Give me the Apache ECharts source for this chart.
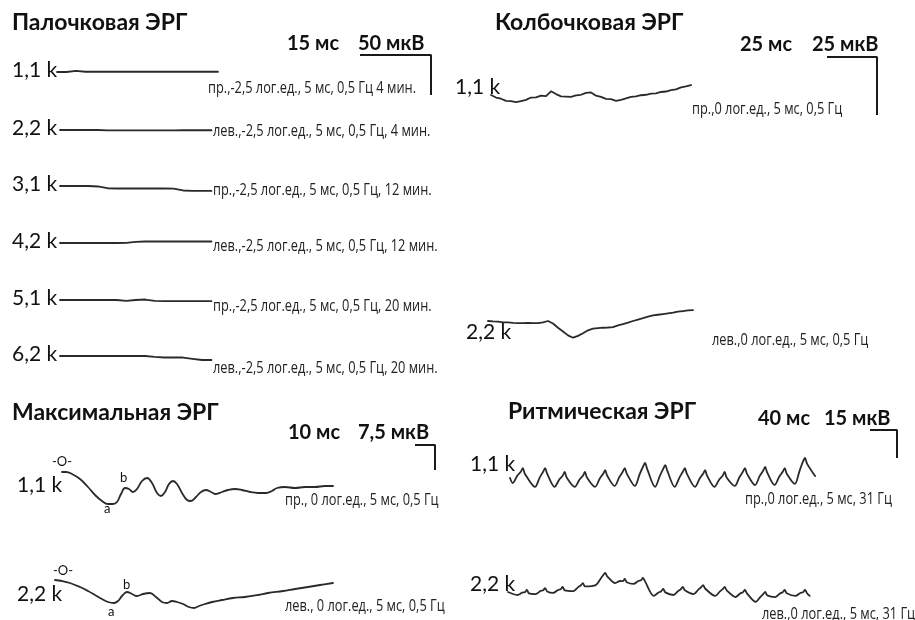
<!DOCTYPE html>
<html>
<head>
<meta charset="utf-8">
<script src="https://cdn.jsdelivr.net/npm/echarts@6/dist/echarts.min.js"></script>
<style>
  html, body { margin: 0; padding: 0; background: #fff; }
  #chart { width: 915px; height: 620px; }
</style>
</head>
<body>
<div id="chart"></div>
<script>
// ---------- recorded responses (time in ms, amplitude in µV) ----------

// Rod (scotopic) ERG, sampled every 2 ms
const rodStepMs = 2;
const rod1 = [0, 0, 1.5, 0.3, 0.3, 0.3, 0.3, 0.3, 0.3, 0.3, 0.3, 0.3, 0.3, 0.3, 0.3, 0.3, 0.3, 0.3];
const rod2 = [0, 0, 0, 0, 0, -0.5, -0.5, -0.5, -0.5, -0.5, -0.5, -0.5, -0.5, -0.3, -0.3, -0.3, -0.3];
const rod3 = [0, 0, 0, 0, -0.6, -2.8, -3.1, -3.1, -3.1, -3.1, -3.1, -3.1, -3.4, -5.6, -6.2, -6.2, -6.2];
const rod4 = [0, 0, 0, 0, 0, 0, 0, 0.2, 1.5, 1.9, 1.9, 1.9, 1.9, 1.9, 1.9, 1.9, 1.9];
const rod5 = [0, 0, 0, 0, 0, 0, 0, -1.2, 0, 0.6, -1.2, -1.3, -1.3, -1.3, -1.3, -1.3, -1.3];
const rod6 = [0, 0, 0, 0, 0, 0, 0, 0, 0, 0, -1.2, -1.9, -1.9, -1.9, -3.5, -5, -5];
const rodLabels = ['1,1 k', '2,2 k', '3,1 k', '4,2 k', '5,1 k', '6,2 k'];
const rodNotes = [
  'пр.,-2,5 лог.ед., 5 мс, 0,5 Гц 4 мин.',
  'лев.,-2,5 лог.ед., 5 мс, 0,5 Гц, 4 мин.',
  'пр.,-2,5 лог.ед., 5 мс, 0,5 Гц, 12 мин.',
  'лев.,-2,5 лог.ед., 5 мс, 0,5 Гц, 12 мин.',
  'пр.,-2,5 лог.ед., 5 мс, 0,5 Гц, 20 мин.',
  'лев.,-2,5 лог.ед., 5 мс, 0,5 Гц, 20 мин.'
];

// Cone (photopic) ERG, sampled every 2.5 ms
const coneStepMs = 2.5;
const cone1 = [0, -1.1, -1.6, -2.5, -2.6, -3.1, -2.6, -2.1, -1.1, -1.0, -0.3, -0.5, 1.6, 0.4, -0.6, -0.7, -0.8, -0.2, 0.1, 0.9, 1.1, -0.3, -0.8, -1.7, -1.8, -2.5, -2.1, -1.5, -0.8, -0.6, -0.1, 0.1, 0.6, 0.7, 1.3, 1.5, 2.1, 2.4, 3.3, 3.7, 4.3];
const cone2 = [0, -0.2, -0.3, -0.6, -0.6, -0.8, -0.9, -0.9, -0.8, -0.9, -0.9, -0.6, 0, -1.1, -2.9, -4.5, -6.2, -7.2, -6.4, -5.3, -4.0, -3.3, -3.1, -2.9, -2.8, -2.6, -1.9, -1.3, -0.7, 0, 0.6, 1.2, 1.9, 2.4, 2.7, 3.0, 3.3, 3.6, 4.0, 4.3, 4.6, 4.7];
const coneLabels = ['1,1 k', '2,2 k'];
const coneNotes = ['пр.,0 лог.ед., 5 мс, 0,5 Гц', 'лев.,0 лог.ед., 5 мс, 0,5 Гц'];

// Maximal (combined) ERG
const maxT1 = [0, 2, 5, 9, 13, 16.5, 20, 23, 25.5, 27.5, 29.5, 31.5, 33.5, 35.5, 37.5, 40, 42.5, 45, 47.5, 49.5, 51.5, 53.5, 55.5, 57.5, 60, 62.5, 64.5, 67, 69.5, 72, 74.5, 77, 80, 83, 86.5, 90, 94, 98, 102, 105, 107.5, 111.5, 116.5, 121.5, 126.5, 131.5, 135.5];
const maxV1 = [0, 0, -0.6, -2.1, -4.5, -6.9, -8.7, -9.6, -9.6, -9.0, -6.6, -4.8, -5.1, -6.0, -5.1, -2.7, -1.8, -3.3, -6.3, -7.2, -6.0, -3.6, -2.7, -3.6, -6.3, -8.4, -8.7, -7.5, -6.0, -5.4, -6.0, -6.6, -6.0, -5.4, -5.1, -5.4, -6.0, -6.3, -6.3, -5.7, -4.8, -4.5, -4.8, -4.5, -4.5, -4.2, -4.2];
const maxT2 = [0, 3.5, 7.5, 12.5, 16.5, 20, 23.5, 26.5, 29.5, 31.5, 33.5, 36, 38.5, 41, 44, 47.5, 50.5, 53.5, 56, 58.5, 61, 64, 67, 69.5, 72, 75, 78.5, 83.5, 89, 95, 101.5, 106.5, 114, 120, 126.5, 132.5, 139];
const maxV2 = [0, -0.3, -0.9, -2.1, -3.3, -4.5, -5.7, -6.6, -6.9, -6.3, -4.8, -3.6, -4.2, -4.8, -4.2, -3.9, -5.1, -6.6, -6.9, -6.3, -6.6, -7.2, -8.1, -8.4, -7.8, -7.2, -6.6, -6.0, -5.4, -5.1, -4.5, -3.9, -3.3, -2.7, -2.1, -1.5, -0.9];
const maxLabels = ['1,1 k', '2,2 k'];
const maxNotes = ['пр., 0 лог.ед., 5 мс, 0,5 Гц', 'лев., 0 лог.ед., 5 мс, 0,5 Гц'];

// Flicker (31 Hz) ERG
const rhyT1 = [0, 4, 11, 16, 19, 22, 37, 44, 49, 52, 55, 66, 73, 78, 81, 84, 96, 103, 108, 111, 114, 126, 133, 138, 141, 144, 155, 162, 167, 170, 173, 185, 192, 197, 200, 203, 215, 222, 227, 230, 233, 244, 251, 256, 259, 262, 274, 281, 286, 289, 292, 303, 310, 315, 318, 321, 333, 340, 345, 348, 351, 363, 370, 375, 378, 381, 392, 399, 404, 407, 410, 422, 429, 434, 437, 440, 452];
const rhyV1 = [1.1, -1.6, 2.4, 4.4, 6.4, 3.4, -3.7, 1.3, 4.4, 6.4, 3.4, -3.7, 0.3, 2.3, 4.3, 1.3, -3.7, 0.3, 2.3, 4.3, 1.3, -3.7, 0.8, 3.3, 5.3, 2.3, -3.2, 1.6, 4.4, 6.4, 3.4, -3.2, 3.0, 7.1, 9.1, 6.1, -3.7, 2.2, 6.0, 8.0, 5.0, -3.7, 1.3, 4.4, 6.4, 3.4, -3.7, 0.8, 3.3, 5.3, 2.3, -3.7, 0.3, 2.3, 4.3, 1.3, -3.2, 1.6, 4.4, 6.4, 3.4, -2.7, 2.2, 5.0, 7.0, 4.0, -2.7, 1.9, 4.4, 6.4, 3.4, -2.1, 4.9, 9.8, 11.8, 8.8, 2.1];
const rhyT2 = [0, 14, 21, 25, 28, 31, 41, 48, 52, 55, 58, 67, 74, 78, 81, 84, 97, 104, 108, 111, 114, 130, 137, 141, 144, 147, 159, 166, 170, 173, 176, 186, 193, 197, 200, 203, 216, 223, 227, 230, 233, 245, 252, 256, 259, 262, 275, 282, 286, 289, 292, 307, 314, 318, 321, 324, 337, 344, 348, 351, 354, 367, 374, 378, 381, 384, 396, 403, 407, 410, 413, 426, 433, 437, 440, 443, 447];
const rhyV2 = [0, -1.6, -0.3, -0.1, 1.1, -0.7, -1.1, 0.5, 0.9, 2.1, 0.3, -0.5, 1.1, 1.5, 2.7, 0.9, 0.5, 2.6, 3.6, 4.8, 3.0, 3.7, 7.0, 9.0, 10.2, 8.4, 4.8, 5.9, 5.8, 7.0, 5.2, 4.3, 5.9, 6.3, 7.5, 5.7, -2.1, -0.3, 0.4, 1.6, -0.2, -1.6, 0.5, 1.5, 2.7, 0.9, -1.1, 1.3, 2.5, 3.7, 1.9, -2.1, 0.3, 1.5, 2.7, 0.9, -2.7, -0.8, -0.1, 1.1, -0.7, -5.3, -2.6, -1.2, 0, -1.8, -2.7, -0.8, -0.1, 1.1, -0.7, -2.1, -0.5, -0.1, 1.1, -0.7, -2.1];
const rhyLabels = ['1,1 k', '2,2 k'];
const rhyNotes = ['пр.,0 лог.ед., 5 мс, 31 Гц', 'лев.,0 лог.ед., 5 мс, 31 Гц'];

// Calibration bars of each panel: [time ms, amplitude µV]
const rodScale = [15, 50];
const coneScale = [25, 25];
const maxScale = [10, 7.5];
const rhyScale = [40, 15];

// ---------- layout ----------
const FONT_TITLE = 'bold 23px Lato, "Open Sans", sans-serif';
const FONT_SCALE = 'bold 20px Lato, "Open Sans", sans-serif';
const FONT_LABEL = '21px Lato, "Open Sans", sans-serif';
const FONT_NOTE = '16px "Open Sans", "Noto Sans", sans-serif';
const NOTE_SQUEEZE = 0.8;
const FONT_MARK = '13px Lato, "Open Sans", sans-serif';
const INK = '#2a2a2a';

// pixel size of one ms and one µV in each panel (taken from its calibration bar)
const rodPanel  = { pxMs: 71 / rodScale[0],  pxUv: 40 / rodScale[1],  scale: rodScale };
const conePanel = { pxMs: 50 / coneScale[0], pxUv: 58 / coneScale[1], scale: coneScale };
const maxPanel  = { pxMs: 20 / maxScale[0],  pxUv: 25 / maxScale[1],  scale: maxScale };
const rhyPanel  = { pxMs: 27 / rhyScale[0],  pxUv: 28 / rhyScale[1],  scale: rhyScale };

const grids = [], xAxes = [], yAxes = [], series = [], texts = [];

function addGrid(left, top, width, height, xMin, xMax, yMin, yMax) {
  const i = grids.length;
  grids.push({ left, top, width, height, containLabel: false, outerBoundsMode: 'none' });
  xAxes.push({ type: 'value', gridIndex: i, min: xMin, max: xMax, show: false });
  yAxes.push({ type: 'value', gridIndex: i, min: yMin, max: yMax, show: false });
  return i;
}

// one trace: baseline (t = 0, v = 0) placed at (x0, y0)
function addTrace(points, panel, x0, y0, smooth) {
  const tMax = points[points.length - 1][0];
  const H = 30;
  const half = H / 2 / panel.pxUv;
  const i = addGrid(x0, y0 - H / 2, tMax * panel.pxMs, H, 0, tMax, -half, half);
  series.push({
    type: 'line', xAxisIndex: i, yAxisIndex: i, data: points,
    symbol: 'none', smooth: smooth || false, clip: false, silent: true,
    lineStyle: { color: INK, width: 1.8, join: 'round', cap: 'round' }
  });
}

// calibration bar: horizontal = time, vertical = amplitude, corner at top right
function addBar(panel, left, top) {
  const [ms, uv] = panel.scale;
  const i = addGrid(left, top, ms * panel.pxMs, uv * panel.pxUv, 0, ms, -uv, 0);
  series.push({
    type: 'line', xAxisIndex: i, yAxisIndex: i,
    data: [[0, 0], [ms, 0], [ms, -uv]],
    symbol: 'none', clip: false, silent: true,
    lineStyle: { color: '#1a1a1a', width: 2 }
  });
}

function uniform(values, step) { return values.map((v, k) => [k * step, v]); }
function paired(ts, vs) { return ts.map((t, k) => [t, vs[k]]); }

function text(str, x, y, font, color, squeeze) {
  texts.push({
    type: 'text', x, y, silent: true, scaleX: squeeze || 1,
    style: { text: str, font, fill: color || '#111', textVerticalAlign: 'middle', verticalAlign: 'middle' }
  });
}
function note(str, x, y) { text(str, x, y, FONT_NOTE, '#222', NOTE_SQUEEZE); }

// ---- Палочковая ЭРГ ----
text('Палочковая ЭРГ', 12, 23, FONT_TITLE);
text('15 мс', 287, 44, FONT_SCALE);
text('50 мкВ', 358, 44, FONT_SCALE);
addBar(rodPanel, 360, 55);
const rodTraces = [rod1, rod2, rod3, rod4, rod5, rod6];
const rodX0 = [57, 60, 60, 60, 60, 60];
const rodY0 = [72, 130, 186, 243, 300, 356];
const rodNoteXY = [[208, 88], [213, 131], [213, 190], [213, 246], [213, 306], [213, 368]];
rodTraces.forEach((vals, k) => {
  addTrace(uniform(vals, rodStepMs), rodPanel, rodX0[k], rodY0[k], false);
  text(rodLabels[k], 12, rodY0[k] - 2, FONT_LABEL);
  note(rodNotes[k], rodNoteXY[k][0], rodNoteXY[k][1]);
});

// ---- Колбочковая ЭРГ ----
text('Колбочковая ЭРГ', 495, 23, FONT_TITLE);
text('25 мс', 740, 45, FONT_SCALE);
text('25 мкВ', 812, 45, FONT_SCALE);
addBar(conePanel, 827, 57);
addTrace(uniform(cone1, coneStepMs), conePanel, 491, 95, false);
addTrace(uniform(cone2, coneStepMs), conePanel, 488, 321, false);
text(coneLabels[0], 455, 87, FONT_LABEL);
text(coneLabels[1], 466, 332, FONT_LABEL);
note(coneNotes[0], 692, 109);
note(coneNotes[1], 712, 340);

// ---- Максимальная ЭРГ ----
text('Максимальная ЭРГ', 12, 413, FONT_TITLE);
text('10 мс', 288, 433, FONT_SCALE);
text('7,5 мкВ', 358, 433, FONT_SCALE);
addBar(maxPanel, 415, 445);
addTrace(paired(maxT1, maxV1), maxPanel, 62, 472, 0.4);
addTrace(paired(maxT2, maxV2), maxPanel, 55, 580, 0.4);
text('-O-', 52, 462, FONT_MARK);
text(maxLabels[0], 17, 485, FONT_LABEL);
text('b', 120, 478, FONT_MARK);
text('a', 104, 509, FONT_MARK);
note(maxNotes[0], 285, 500);
text('-O-', 53, 571, FONT_MARK);
text(maxLabels[1], 17, 594, FONT_LABEL);
text('b', 123, 585, FONT_MARK);
text('a', 108, 612, FONT_MARK);
note(maxNotes[1], 285, 606);

// ---- Ритмическая ЭРГ ----
text('Ритмическая ЭРГ', 508, 412, FONT_TITLE);
text('40 мс', 758, 419, FONT_SCALE);
text('15 мкВ', 824, 419, FONT_SCALE);
addBar(rhyPanel, 870, 430);
addTrace(paired(rhyT1, rhyV1), rhyPanel, 510, 480, 0.3);
addTrace(paired(rhyT2, rhyV2), rhyPanel, 508, 592, 0.3);
text(rhyLabels[0], 470, 464, FONT_LABEL);
text(rhyLabels[1], 470, 584, FONT_LABEL);
note(rhyNotes[0], 745, 499);
note(rhyNotes[1], 762, 614);

const chart = echarts.init(document.getElementById('chart'), null, { renderer: 'canvas' });
chart.setOption({
  animation: false,
  backgroundColor: '#ffffff',
  grid: grids,
  xAxis: xAxes,
  yAxis: yAxes,
  series: series,
  graphic: { elements: texts }
});
</script>
</body>
</html>
